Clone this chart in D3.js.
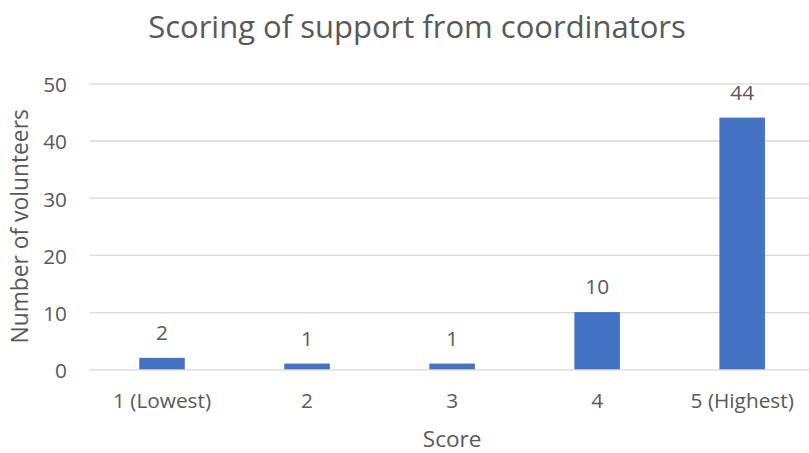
<!DOCTYPE html>
<html>
<head>
<meta charset="utf-8">
<script src="https://cdn.jsdelivr.net/npm/d3@7"></script>
<style>
  html, body { margin: 0; padding: 0; background: #fff; }
  svg { display: block; }
  text { font-family: "Open Sans", Lato, sans-serif; fill: #595959; }
</style>
</head>
<body>
<svg id="chart" width="809" height="453"></svg>
<script>
// Survey results: how volunteers scored the support they got from coordinators
const categories = ["1 (Lowest)", "2", "3", "4", "5 (Highest)"];
const volunteers = [2, 1, 1, 10, 44];
const yTicks = [0, 10, 20, 30, 40, 50];

const chartTitle = "Scoring of support from coordinators";
const xTitle = "Score";
const yTitle = "Number of volunteers";

const svg = d3.select("#chart");
const plot = { left: 89.5, right: 814.7, top: 83.3, bottom: 369.3 };

const x = d3.scaleBand()
  .domain(categories)
  .range([plot.left, plot.right])
  .padding(0);

const y = d3.scaleLinear()
  .domain([0, 50])
  .range([plot.bottom, plot.top]);

const barW = x.bandwidth() * 0.314;
const tickFont = 20.8;

// value axis with horizontal gridlines
const yAxis = d3.axisLeft(y)
  .tickValues(yTicks)
  .tickSize(-(plot.right - plot.left))
  .tickPadding(22.5)
  .tickFormat(d3.format("d"));

const gy = svg.append("g")
  .attr("transform", `translate(${plot.left},0)`)
  .call(yAxis);
gy.select(".domain").remove();
gy.selectAll(".tick line").attr("stroke", "#D9D9D9").attr("stroke-width", 1.3);
gy.selectAll(".tick text")
  .attr("font-size", tickFont)
  .attr("dy", "0.4em")
  .style("fill", "#595959");

// category axis labels
const xAxis = d3.axisBottom(x).tickSize(0);
const gx = svg.append("g")
  .attr("transform", `translate(0,${plot.bottom})`)
  .call(xAxis);
gx.select(".domain").remove();
gx.selectAll(".tick text")
  .attr("font-size", tickFont)
  .attr("y", 38.7)
  .attr("dy", 0)
  .style("fill", "#595959");

// bars
svg.append("g")
  .selectAll("rect")
  .data(volunteers)
  .join("rect")
  .attr("x", (d, i) => x(categories[i]) + x.bandwidth() / 2 - barW / 2)
  .attr("y", d => y(d))
  .attr("width", barW)
  .attr("height", d => y(0) - y(d))
  .attr("fill", "#4472C4");

// value labels above bars
svg.append("g")
  .selectAll("text")
  .data(volunteers)
  .join("text")
  .attr("x", (d, i) => x(categories[i]) + x.bandwidth() / 2)
  .attr("y", d => y(d) - 18)
  .attr("text-anchor", "middle")
  .attr("font-size", tickFont)
  .text(d => d);

// titles
svg.append("text")
  .attr("x", 417)
  .attr("y", 38.3)
  .attr("text-anchor", "middle")
  .attr("font-size", 31)
  .text(chartTitle);

svg.append("text")
  .attr("x", (plot.left + plot.right) / 2)
  .attr("y", 446.5)
  .attr("text-anchor", "middle")
  .attr("font-size", 22.5)
  .text(xTitle);

svg.append("text")
  .attr("transform", `translate(28,${(plot.top + plot.bottom) / 2}) rotate(-90)`)
  .attr("text-anchor", "middle")
  .attr("font-size", 22.8)
  .text(yTitle);
</script>
</body>
</html>
